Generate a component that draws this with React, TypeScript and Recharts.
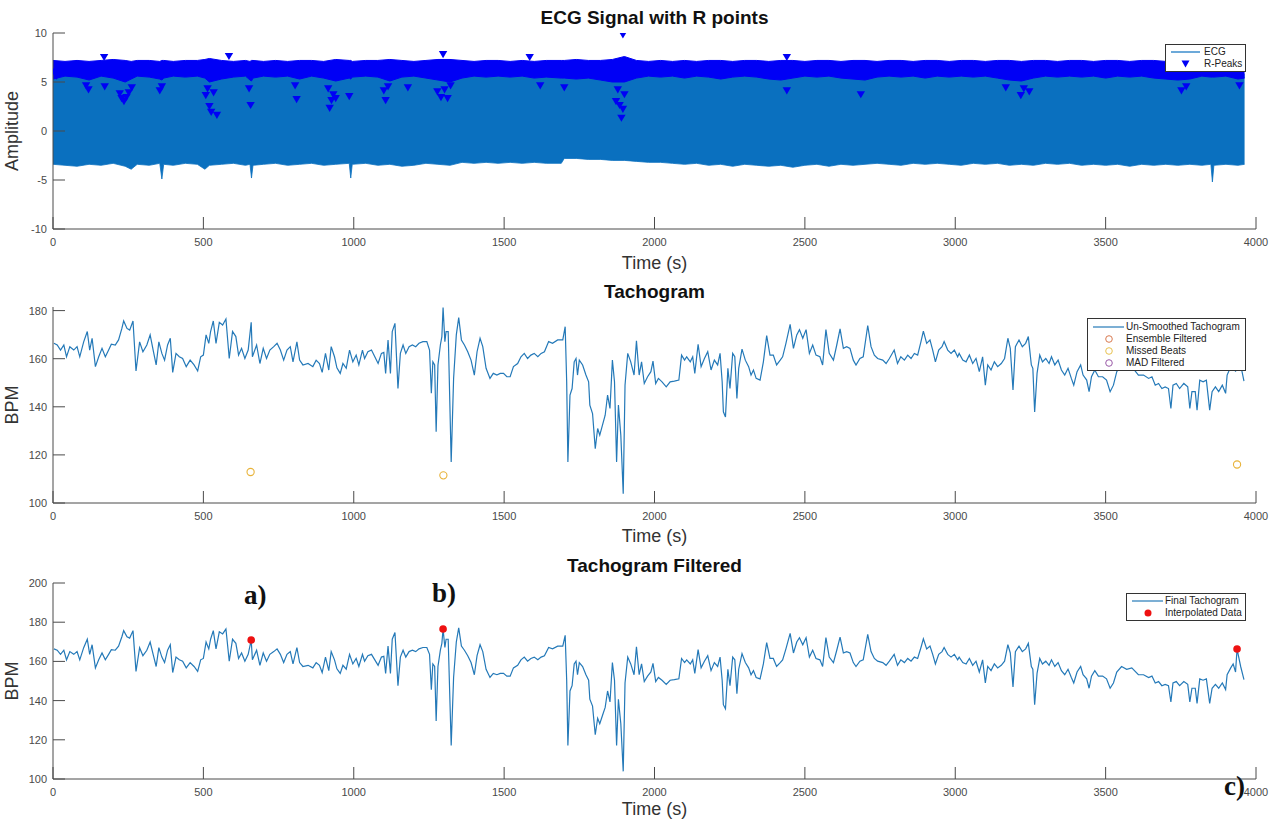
import React from 'react';
import { ComposedChart, Line, Area, Scatter, XAxis, YAxis } from 'recharts';

// ---------- DATA ----------
const TIME_TICKS = [0, 500, 1000, 1500, 2000, 2500, 3000, 3500, 4000];
const ECG_TICKS = [-10, -5, 0, 5, 10];
const TACHO_TICKS = [100, 120, 140, 160, 180];
const FILT_TICKS = [100, 120, 140, 160, 180, 200];

// [time, ecgLow, ecgHigh, rPeakBandLow, rPeakBandHigh]
const ECG_ROWS: number[][] = [
  [0,-3.4,5.8,5.3,7.2],[40,-3.5,5.8,5.6,7.1],[80,-3.6,5.8,5.5,7.2],[120,-3.4,5.8,5.2,7.1],
  [160,-3.5,5.8,5.6,7.2],[200,-3.3,5.8,5.4,7.3],[240,-3.6,5.8,5.0,7.2],[260,-3.9,5.8,5.3,7.1],
  [280,-3.4,5.8,5.6,7.2],[320,-3.5,5.8,5.5,7.2],[355,-3.3,5.8,5.3,7.1],[362,-4.9,5.8,5.2,7.2],
  [368,-3.4,5.8,5.4,7.2],[400,-3.5,5.8,5.6,7.1],[440,-3.3,5.8,5.5,7.2],[480,-3.4,5.8,5.6,7.2],
  [505,-3.9,5.8,5.4,7.3],[520,-3.5,5.8,5.0,7.4],[560,-3.4,5.8,5.3,7.2],[600,-3.3,5.8,5.5,7.1],
  [640,-3.5,5.8,5.6,7.2],[655,-3.4,5.8,5.2,7.1],[660,-4.8,5.8,5.1,7.2],[665,-3.5,5.8,5.4,7.2],
  [700,-3.4,5.8,5.6,7.1],[740,-3.3,5.8,5.5,7.2],[780,-3.5,5.8,5.6,7.1],[820,-3.4,5.8,5.3,7.2],
  [860,-3.3,5.8,5.6,7.2],[900,-3.5,5.8,5.4,7.1],[940,-3.4,5.8,5.1,7.3],[985,-3.3,5.8,5.4,7.2],
  [990,-4.8,5.8,5.3,7.2],[995,-3.4,5.8,5.5,7.1],[1040,-3.3,5.8,5.6,7.2],[1080,-3.5,5.8,5.5,7.2],
  [1120,-3.4,5.8,5.1,7.3],[1160,-3.6,5.8,5.5,7.2],[1200,-3.5,5.8,5.6,7.1],[1240,-3.3,5.8,5.4,7.2],
  [1280,-3.4,5.8,5.2,7.3],[1320,-3.5,5.8,5.0,7.3],[1360,-3.2,5.8,5.4,7.2],[1400,-3.3,5.8,5.6,7.1],
  [1440,-3.2,5.8,5.5,7.2],[1480,-3.3,5.8,5.6,7.2],[1520,-3.2,5.8,5.5,7.1],[1560,-3.3,5.8,5.6,7.2],
  [1600,-3.2,5.8,5.4,7.1],[1640,-3.3,5.8,5.5,7.2],[1690,-3.3,5.8,5.4,7.2],[1700,-2.8,5.8,5.4,7.2],
  [1740,-2.8,5.8,5.3,7.3],[1780,-2.9,5.8,5.4,7.2],[1820,-2.9,5.8,5.2,7.2],[1860,-3.0,5.8,5.0,7.3],
  [1900,-3.0,5.8,5.0,7.6],[1940,-3.1,5.8,5.4,7.2],[1980,-3.2,5.8,5.6,7.1],[2020,-3.2,5.8,5.5,7.2],
  [2060,-3.3,5.8,5.6,7.1],[2100,-3.4,5.8,5.4,7.2],[2140,-3.3,5.8,5.6,7.1],[2180,-3.5,5.8,5.5,7.2],
  [2220,-3.4,5.8,5.3,7.2],[2260,-3.6,5.8,5.5,7.1],[2300,-3.4,5.8,5.6,7.2],[2340,-3.5,5.8,5.5,7.2],
  [2380,-3.6,5.8,5.3,7.1],[2420,-3.5,5.8,5.2,7.2],[2460,-3.7,5.8,5.4,7.2],[2500,-3.5,5.8,5.6,7.1],
  [2540,-3.4,5.8,5.5,7.2],[2580,-3.6,5.8,5.6,7.2],[2620,-3.4,5.8,5.4,7.1],[2660,-3.5,5.8,5.3,7.2],
  [2700,-3.4,5.8,5.2,7.2],[2740,-3.3,5.8,5.5,7.1],[2780,-3.4,5.8,5.6,7.2],[2820,-3.5,5.8,5.5,7.2],
  [2860,-3.3,5.8,5.6,7.1],[2900,-3.4,5.8,5.4,7.2],[2940,-3.3,5.8,5.6,7.2],[2980,-3.4,5.8,5.5,7.1],
  [3020,-3.5,5.8,5.6,7.2],[3060,-3.3,5.8,5.5,7.2],[3100,-3.4,5.8,5.6,7.1],[3140,-3.3,5.8,5.4,7.2],
  [3180,-3.5,5.8,5.2,7.2],[3220,-3.4,5.8,5.1,7.1],[3260,-3.5,5.8,5.4,7.2],[3300,-3.3,5.8,5.6,7.2],
  [3340,-3.4,5.8,5.5,7.1],[3380,-3.3,5.8,5.6,7.2],[3420,-3.5,5.8,5.5,7.2],[3460,-3.4,5.8,5.6,7.1],
  [3500,-3.5,5.8,5.4,7.2],[3540,-3.4,5.8,5.6,7.2],[3580,-3.6,5.8,5.5,7.1],[3620,-3.4,5.8,5.6,7.2],
  [3660,-3.5,5.8,5.4,7.2],[3700,-3.4,5.8,5.3,7.1],[3740,-3.5,5.8,5.2,7.2],[3780,-3.4,5.8,5.3,7.2],
  [3820,-3.5,5.8,5.6,7.1],[3850,-3.4,5.8,5.5,7.2],[3855,-5.2,5.8,5.5,7.2],[3860,-3.5,5.8,5.5,7.2],
  [3900,-3.4,5.8,5.6,7.1],[3940,-3.5,5.8,5.3,7.2],[3962,-3.4,5.8,5.4,7.0],
];

// R-peaks that stand apart from the dense band: [time, amplitude]
const R_PEAK_OUTLIERS: number[][] = [
  [8,6.0],[12,5.6],[110,4.6],[118,4.2],[172,4.5],[170,7.5],[222,3.8],[228,3.3],[236,3.0],[244,3.4],
  [252,3.9],[262,4.4],[355,4.1],[362,4.5],[508,3.6],[514,4.3],[520,2.5],[526,1.9],[534,3.9],[545,1.6],
  [585,7.6],[652,4.3],[657,2.6],[805,4.6],[810,3.2],[915,4.3],[920,2.3],[926,3.1],[932,3.7],[940,3.3],
  [985,3.5],[1100,4.1],[1106,3.1],[1114,4.5],[1180,4.4],[1278,4.0],[1290,3.4],[1297,7.8],[1302,4.2],
  [1312,3.3],[1322,4.6],[1585,7.5],[1620,4.6],[1700,4.4],[1872,3.0],[1878,4.2],[1884,2.6],[1890,1.3],
  [1895,2.2],[1900,3.7],[1895,9.8],[2440,4.1],[2440,7.5],[2686,3.7],[3168,4.4],[3218,3.6],[3228,4.3],
  [3246,4.0],[3752,4.1],[3768,4.5],[3945,4.6],
];

const TACHO_A: number[][] = [
  [3,166.4],[14,165.7],[25,163.6],[36,165.7],[45,160.8],[56,165],[69,163.6],[80,165],[89,160.8],[102,167],
  [114,171.3],[122,163.6],[130,168.5],[141,156.7],[152,160.8],[163,164.3],[174,160.8],[185,163.6],[194,166],
  [207,165.7],[218,167.8],[229,172.6],[235,175.7],[246,172.6],[255,171.9],[266,175.7],[276,154.9],[288,167],
  [299,162.9],[312,165.7],[323,169.9],[334,162.9],[343,157.4],[352,167],[362,162.2],[371,159.4],[381,165.7],
  [390,168.5],[398,154.3],[409,162.2],[420,160.8],[431,160.1],[443,156.7],[456,159.4],[469,157.4],[481,154.9],
  [491,160.8],[500,161.5],[509,169.9],[518,166.4],[524,171.3],[533,175.7],[542,166.4],[553,175.1],[564,174],
  [575,176.5],[586,160.1],[597,171.3],[608,169.2],[617,161.5],[627,164.3],[638,160.1],[649,163.6],[659,175.1],
  [663,160.8],[677,165.7],[688,158],[699,164.3],[710,160.1],[721,163.6],[734,165],[745,166.4],[756,163.6],
  [767,159.4],[778,163.6],[789,165],[798,158.7],[811,167],[820,159.4],[831,157.4],[848,158],[864,156.7],
  [875,159.4],[886,158],[895,154.3],[906,162.2],[917,155.3],[925,165],[936,160.8],[944,156.2],[955,153.9],
  [964,158],[975,156],[986,163.6],[997,158.7],[1008,161.5],[1017,157.4],
];
const TACHO_B: number[][] = [
  [1029,163.6],[1036,160.1],[1047,162.9],[1059,163.6],[1070,160.8],[1081,158],[1092,162.2],[1100,162.6],
  [1106,153.9],[1114,167.8],[1122,153.9],[1128,171.3],[1137,174.7],[1147,147.6],[1155,162.2],[1164,165.7],
  [1173,162.2],[1184,165],[1195,165.7],[1206,165],[1217,166.4],[1230,167.1],[1243,167.1],[1252,163.6],
  [1258,145.6],[1263,158.7],[1269,157.4],[1274,129.6],[1280,157.4],[1288,165.7],[1293,169.2],[1297,181.3],
  [1303,167.1],[1307,171.3],[1314,171.3],[1324,117.1],[1332,151.8],[1341,169.9],[1349,177.1],[1358,167.8],
  [1368,165.7],[1379,162.9],[1390,159.4],[1401,153.2],[1410,162.9],[1420,168.5],[1429,165],[1440,156],
  [1453,151.8],[1464,153.9],[1476,153.2],[1487,153.9],[1498,153.9],[1509,152.5],[1520,152.5],[1531,156.7],
  [1545,158],[1556,160.8],[1567,162.2],[1578,160.1],[1589,161.5],[1600,162.2],[1612,160.8],[1623,162.2],
  [1634,162.9],[1648,167.1],[1661,166.4],[1678,167.8],[1695,167.8],[1703,173.3],[1708,150.4],[1712,117.1],
  [1719,144.9],[1726,147.6],[1733,158.7],[1739,160.1],[1744,153.2],[1750,159.4],[1761,157.4],[1772,153.2],
  [1781,150.4],[1785,140.7],[1794,137.2],[1803,122.6],[1811,131],[1818,128.2],[1827,132.4],[1836,136.5],
  [1844,144.9],[1852,139.3],[1860,159.4],[1867,150.4],[1874,117.1],[1880,140.7],[1888,128.2],[1896,103.9],
  [1902,149],[1911,162.2],[1921,158.7],[1932,153.2],[1940,167.4],[1949,153.2],[1957,158.7],[1966,149.7],
  [1977,152.5],[1988,154.6],[1995,159],[2004,149.7],[2013,151.8],
];
const TACHO_C: number[][] = [
  [2025,150.4],[2039,148.3],[2052,150.4],[2066,150.7],[2081,151.1],[2090,161.5],[2100,159.4],[2107,160.8],
  [2119,158.7],[2127,160.8],[2134,153.9],[2145,166],[2155,156.7],[2166,160.1],[2177,162.9],[2188,155.3],
  [2199,159.4],[2210,157.4],[2218,162.2],[2225,150.4],[2229,137.9],[2236,135.8],[2244,156],[2251,147.6],
  [2260,162.2],[2267,160.8],[2274,143.5],[2280,156],[2291,164],[2302,159.4],[2313,156.7],[2321,153.2],
  [2329,155.3],[2338,151.8],[2351,151.1],[2362,158.7],[2373,169.6],[2384,161.5],[2395,161.5],[2406,157.4],
  [2418,159.4],[2426,160.8],[2437,166.4],[2451,174.3],[2462,164.3],[2473,169.9],[2482,172.1],[2493,168.5],
  [2504,172.1],[2515,162.2],[2526,165.7],[2537,161.5],[2550,160.8],[2559,157.4],[2570,172.1],[2581,162.2],
  [2595,159.4],[2606,165.7],[2617,172.4],[2628,164.3],[2639,165],[2650,164.3],[2661,159.4],[2670,157.4],
  [2683,160.1],[2694,160.8],[2709,173.8],[2720,165],[2731,161.5],[2742,160.1],[2759,159.4],[2770,158],
  [2781,160.1],[2797,163.6],[2808,158],[2819,160.8],[2831,159.4],[2842,161.5],[2853,160.1],[2864,162.2],
  [2875,161.5],[2886,167.1],[2894,171.5],[2905,166.4],[2916,167.8],[2925,163.6],[2934,158.7],[2945,163.6],
  [2956,165],[2963,167.1],[2975,163.6],[2986,162.2],[2997,163.6],[3008,160.8],
];
const TACHO_D: number[][] = [
  [3013,162.2],[3025,159.4],[3036,158.7],[3047,161.5],[3058,158],[3069,160.1],[3080,154.6],[3091,160.8],
  [3100,149],[3108,157.4],[3119,155.3],[3130,158.7],[3141,156.7],[3153,158],[3164,160.1],[3175,168.5],
  [3183,164.3],[3192,147],[3200,165],[3212,167.8],[3223,165],[3234,166.4],[3243,169.2],[3253,157.4],
  [3258,156],[3264,137.9],[3272,153.9],[3281,161.5],[3290,158.7],[3301,160.1],[3312,158],[3320,160.8],
  [3331,157.4],[3342,159.4],[3353,155.3],[3364,153.2],[3375,156],[3386,151.8],[3394,149],[3405,154.6],
  [3417,157.4],[3425,153.2],[3437,151.1],[3445,146.3],[3453,152.5],[3464,155.3],[3476,152.5],[3490,152.5],
  [3503,151.1],[3515,146.3],[3526,149],[3537,154.6],[3553,157.4],[3570,156],[3587,156.7],[3609,153.2],
  [3626,153.2],[3643,151.8],[3654,152.5],[3665,149],[3676,149.7],[3687,147.6],[3698,148.3],[3709,147.6],
  [3717,139.3],[3724,149],[3735,149.7],[3746,147.6],[3760,149.7],[3773,148.3],[3780,139.3],[3787,146.3],
  [3798,146.3],[3804,138.6],[3813,151.1],[3824,150.4],[3835,151.1],[3846,138.6],[3854,146.3],[3865,148.3],
  [3876,146.3],[3888,149],[3899,145.6],[3904,153.2],[3916,156.7],[3924,158.7],[3932,154.6],[3937,160.8],
  [3949,157.4],[3960,150.7],
];

const MISSED_T = [657, 1298, 3937];
const MISSED_BPM = [112.9, 111.5, 116.0];
const INTERP_T = [659, 1297, 3937];
const INTERP_BPM = [170.9, 176.5, 166.3];

// ---------- TABLES ----------
const ecgData = ECG_ROWS.map(([t, lo, hi, rlo, rhi]) => ({ t, ecg: [lo, hi], peaks: [rlo, rhi] }));
const rPeakData = R_PEAK_OUTLIERS.map(([t, v]) => ({ t, v }));
const tachoRows = [...TACHO_A, ...TACHO_B, ...TACHO_C, ...TACHO_D];
const tachoData = tachoRows.map(([t, v]) => ({ t, bpm: v }));
const filteredData = tachoRows.map(([t, v]) => {
  const k = INTERP_T.indexOf(t);
  return { t, bpm: k >= 0 ? INTERP_BPM[k] : v };
});
const missedData = MISSED_T.map((t, i) => ({ t, bpm: MISSED_BPM[i] }));
const interpData = INTERP_T.map((t, i) => ({ t, bpm: INTERP_BPM[i] }));

// ---------- STYLE ----------
const FONT = '"Liberation Sans", Arial, Helvetica, sans-serif';
const AX = '#4a4a4a';
const ECG_BLUE = '#0a70bf';
const PEAK_BLUE = '#0000f5';
const LINE_BLUE = '#2479b8';
const W = 1279;
const MARGIN = { top: 33, right: 23, bottom: 0, left: 0 };

const tickStyle = { fontSize: 11, fill: AX, fontFamily: FONT };

const DownTri = (p: any) => {
  const { cx, cy } = p;
  if (cx == null || cy == null) return null;
  return <path d={`M${cx - 4.2},${cy - 3.6} L${cx + 4.2},${cy - 3.6} L${cx},${cy + 3.6} Z`} fill={PEAK_BLUE} />;
};
const OpenCircle = (p: any) => {
  const { cx, cy } = p;
  if (cx == null || cy == null) return null;
  return <circle cx={cx} cy={cy} r={3.6} fill="none" stroke="#e8b33a" strokeWidth={1.1} />;
};
const RedDot = (p: any) => {
  const { cx, cy } = p;
  if (cx == null || cy == null) return null;
  return <circle cx={cx} cy={cy} r={3.8} fill="#ee1111" />;
};

const xAxisEl = (offset: number) => (
  <XAxis
    dataKey="t"
    type="number"
    domain={[0, 4000]}
    ticks={TIME_TICKS}
    interval={0}
    height={51}
    tickSize={-12}
    tickMargin={21}
    tick={tickStyle}
    stroke={AX}
    axisLine={{ stroke: AX }}
    tickLine={{ stroke: AX }}
    allowDataOverflow
    label={{ value: 'Time (s)', position: 'insideBottom', offset, style: { fontSize: 18, fill: '#333', fontFamily: FONT } }}
  />
);

const yAxisEl = (domain: number[], ticks: number[], label: string) => (
  <YAxis
    type="number"
    domain={domain}
    ticks={ticks}
    interval={0}
    width={53}
    tickSize={-12}
    tickMargin={18}
    tick={tickStyle}
    axisLine={{ stroke: AX }}
    tickLine={{ stroke: AX }}
    allowDataOverflow
    label={{ value: label, angle: -90, position: 'insideLeft', offset: 12, style: { fontSize: 18, fill: '#333', fontFamily: FONT, textAnchor: 'middle' } }}
  />
);

const Title = ({ text, top }: { text: string; top: number }) => (
  <div style={{ position: 'absolute', left: 53, width: 1203, top, textAlign: 'center', fontFamily: FONT, fontWeight: 'bold', fontSize: 19, lineHeight: '22px', color: '#111' }}>
    {text}
  </div>
);

const legendBox = (left: number, top: number, width: number, height: number): React.CSSProperties => ({
  position: 'absolute', left, top, width, height, boxSizing: 'border-box', border: '1px solid #333',
  background: '#fff', fontFamily: FONT, fontSize: 10, color: '#222',
});

const LegendRow = ({ marker, text, top }: { marker: React.ReactNode; text: string; top: number }) => (
  <div style={{ position: 'absolute', left: 0, top, height: 12, display: 'flex', alignItems: 'center' }}>
    <svg width={38} height={12} style={{ display: 'block' }}>{marker}</svg>
    <span style={{ whiteSpace: 'nowrap', lineHeight: '12px' }}>{text}</span>
  </div>
);

const Annot = ({ text, left, top }: { text: string; left: number; top: number }) => (
  <div style={{ position: 'absolute', left, top, fontFamily: '"Liberation Serif", "Times New Roman", serif', fontWeight: 'bold', fontSize: 27, lineHeight: '30px', color: '#111' }}>
    {text}
  </div>
);

export default function App() {
  return (
    <div style={{ position: 'absolute', left: 0, top: 0, width: W, height: 823, background: '#fff', overflow: 'hidden' }}>
      {/* Panel 1 */}
      <Title text="ECG Signal with R points" top={7} />
      <div style={{ position: 'absolute', left: 0, top: 0 }}>
        <ComposedChart width={W} height={280} data={ecgData} margin={MARGIN}>
          {xAxisEl(11)}
          {yAxisEl([-10, 10], ECG_TICKS, 'Amplitude')}
          <Area type="linear" dataKey="ecg" stroke={ECG_BLUE} strokeWidth={0.8} fill={ECG_BLUE} fillOpacity={1} isAnimationActive={false} dot={false} activeDot={false} />
          <Area type="linear" dataKey="peaks" stroke={PEAK_BLUE} strokeWidth={1} fill={PEAK_BLUE} fillOpacity={1} isAnimationActive={false} dot={false} activeDot={false} />
          <Scatter data={rPeakData} dataKey="v" shape={DownTri} isAnimationActive={false} />
        </ComposedChart>
      </div>
      <div style={legendBox(1165, 44, 81, 28)}>
        <LegendRow top={1} text="ECG" marker={<line x1={5} x2={34} y1={6} y2={6} stroke={ECG_BLUE} strokeWidth={1.2} />} />
        <LegendRow top={13} text="R-Peaks" marker={<path d="M15.5,2.5 L23.5,2.5 L19.5,9.5 Z" fill={PEAK_BLUE} />} />
      </div>

      {/* Panel 2 */}
      <Title text="Tachogram" top={281} />
      <div style={{ position: 'absolute', left: 0, top: 274 }}>
        <ComposedChart width={W} height={280} data={tachoData} margin={MARGIN}>
          {xAxisEl(12.5)}
          {yAxisEl([100, 181.5], TACHO_TICKS, 'BPM')}
          <Line type="linear" dataKey="bpm" stroke={LINE_BLUE} strokeWidth={1.2} dot={false} activeDot={false} isAnimationActive={false} />
          <Scatter data={missedData} dataKey="bpm" shape={OpenCircle} isAnimationActive={false} />
        </ComposedChart>
      </div>
      <div style={legendBox(1087, 318, 159, 53)}>
        <LegendRow top={2} text="Un-Smoothed Tachogram" marker={<line x1={5} x2={36} y1={6} y2={6} stroke={LINE_BLUE} strokeWidth={1.2} />} />
        <LegendRow top={14} text="Ensemble Filtered" marker={<circle cx={21} cy={6} r={3.3} fill="none" stroke="#d97a50" strokeWidth={1} />} />
        <LegendRow top={26} text="Missed Beats" marker={<circle cx={21} cy={6} r={3.3} fill="none" stroke="#e8c250" strokeWidth={1} />} />
        <LegendRow top={38} text="MAD Filtered" marker={<circle cx={21} cy={6} r={3.3} fill="none" stroke="#9a5aa8" strokeWidth={1} />} />
      </div>

      {/* Panel 3 */}
      <Title text="Tachogram Filtered" top={555} />
      <div style={{ position: 'absolute', left: 0, top: 550 }}>
        <ComposedChart width={W} height={280} data={filteredData} margin={MARGIN}>
          {xAxisEl(15.5)}
          {yAxisEl([100, 200], FILT_TICKS, 'BPM')}
          <Line type="linear" dataKey="bpm" stroke={LINE_BLUE} strokeWidth={1.2} dot={false} activeDot={false} isAnimationActive={false} />
          <Scatter data={interpData} dataKey="bpm" shape={RedDot} isAnimationActive={false} />
        </ComposedChart>
      </div>
      <div style={legendBox(1126, 593, 120, 28)}>
        <LegendRow top={1} text="Final Tachogram" marker={<line x1={5} x2={36} y1={6} y2={6} stroke={LINE_BLUE} strokeWidth={1.2} />} />
        <LegendRow top={13} text="Interpolated Data" marker={<circle cx={21} cy={6} r={3.5} fill="#ee1111" />} />
      </div>

      <Annot text="a)" left={244} top={580} />
      <Annot text="b)" left={432} top={578} />
      <Annot text="c)" left={1224} top={771} />
    </div>
  );
}
